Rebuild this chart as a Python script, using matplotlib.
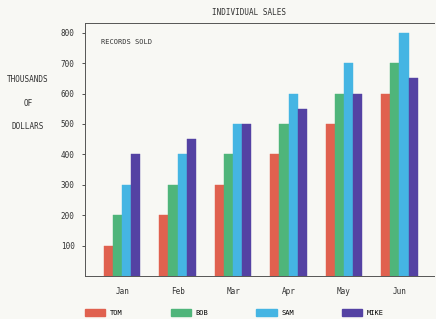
import matplotlib as mpl
mpl.use('Agg')
import matplotlib.pyplot as plt
import numpy as np
from matplotlib.patches import Patch

months = ["Jan", "Feb", "Mar", "Apr", "May", "Jun"]
names = ["TOM", "BOB", "SAM", "MIKE"]
tom = [100, 200, 300, 400, 500, 600]
bob = [200, 300, 400, 500, 600, 700]
sam = [300, 400, 500, 600, 700, 800]
mike = [400, 450, 500, 550, 600, 650]
yticks = [100, 200, 300, 400, 500, 600, 700, 800]

colors = ["#e0614f", "#4fb57a", "#45b5e3", "#5442a3"]
series = [tom, bob, sam, mike]

plt.rcParams['font.family'] = ['DejaVu Sans Mono']
bg = "#f8f8f4"
ink = '#333333'
fig = plt.figure(figsize=(4.36, 3.19), dpi=100, facecolor=bg)
ax = fig.add_axes([0.195, 0.135, 0.80, 0.793], facecolor=bg)

x = np.arange(len(months))
w = 0.165
for i, (vals, c) in enumerate(zip(series, colors)):
    ax.bar(x + (i - 1.5) * w, vals, w, color=c, edgecolor=c, linewidth=0.3)

ax.set_xlim(-0.67, 5.62)
ax.set_ylim(0, 832)
ax.set_yticks(yticks)
ax.set_yticklabels([str(v) for v in yticks], fontsize=5.5)
ax.set_xticks(x)
ax.set_xticklabels(months, fontsize=5.5)
ax.tick_params(axis='y', direction='out', length=2.5, width=0.6, pad=5, colors=ink)
ax.tick_params(axis='x', length=0, pad=8, colors=ink)
for s in ['top', 'left', 'bottom']:
    ax.spines[s].set_linewidth(0.7)
    ax.spines[s].set_color('#555555')
ax.spines['right'].set_visible(False)

ax.text(0.045, 0.925, "RECORDS SOLD", transform=ax.transAxes, fontsize=5,
        va='center', ha='left', color=ink)
fig.text(0.57, 0.962, "INDIVIDUAL SALES", fontsize=5.5, ha='center', va='center',
         color=ink)
fig.text(0.064, 0.752, "THOUSANDS", fontsize=5.5, ha='center', va='center', color=ink)
fig.text(0.064, 0.677, "OF", fontsize=5.5, ha='center', va='center', color=ink)
fig.text(0.064, 0.602, "DOLLARS", fontsize=5.5, ha='center', va='center', color=ink)

handles = [Patch(facecolor=c, edgecolor=c) for c in colors]
fig.legend(handles, names, loc='center left', bbox_to_anchor=(0.181, 0.02), ncol=4,
           frameon=False, fontsize=5, handlelength=2.9, handleheight=1.3,
           columnspacing=6.9, handletextpad=0.7)

fig.savefig("out.png", dpi=100, facecolor=bg)
